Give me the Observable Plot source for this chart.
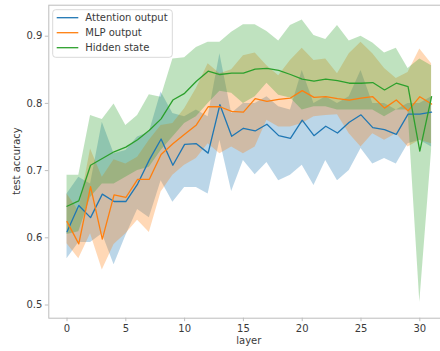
<!DOCTYPE html>
<html>
<head>
<meta charset="utf-8">
<script src="https://cdn.jsdelivr.net/npm/d3@7"></script>
<script src="https://cdn.jsdelivr.net/npm/@observablehq/plot@0.6"></script>
<style>
  html, body { margin: 0; padding: 0; background: #fff; }
  #chart { width: 440px; height: 351px; overflow: hidden; }
  svg { font-family: "DejaVu Sans", sans-serif; }
</style>
</head>
<body>
<div id="chart"></div>
<script>
const layers = [0,1,2,3,4,5,6,7,8,9,10,11,12,13,14,15,16,17,18,19,20,21,22,23,24,25,26,27,28,29,30,31];
const seriesNames = ["Attention output", "MLP output", "Hidden state"];
const seriesColors = ["#1f77b4", "#ff7f0e", "#2ca02c"];
const xTicks = [0, 5, 10, 15, 20, 25, 30];
const yTicks = [0.5, 0.6, 0.7, 0.8, 0.9];

const attnMean = [0.609,0.648,0.630,0.665,0.654,0.654,0.680,0.716,0.747,0.708,0.739,0.740,0.726,0.798,0.751,0.763,0.759,0.769,0.752,0.748,0.775,0.752,0.766,0.756,0.772,0.783,0.764,0.761,0.754,0.784,0.784,0.787];
const attnHi   = [0.665,0.690,0.680,0.772,0.725,0.730,0.750,0.757,0.817,0.785,0.780,0.790,0.780,0.874,0.785,0.800,0.800,0.810,0.795,0.790,0.849,0.800,0.810,0.800,0.810,0.849,0.800,0.800,0.790,0.800,0.800,0.810];
const attnLo   = [0.569,0.593,0.593,0.606,0.560,0.603,0.642,0.630,0.685,0.653,0.675,0.675,0.665,0.745,0.669,0.715,0.694,0.712,0.685,0.693,0.708,0.678,0.715,0.685,0.700,0.733,0.710,0.718,0.710,0.740,0.745,0.735];

const mlpMean = [0.624,0.591,0.676,0.598,0.664,0.660,0.687,0.687,0.724,0.740,0.754,0.768,0.795,0.795,0.788,0.787,0.807,0.803,0.806,0.808,0.819,0.809,0.810,0.807,0.805,0.808,0.810,0.793,0.805,0.789,0.810,0.799];
const mlpHi   = [0.665,0.640,0.732,0.690,0.716,0.710,0.720,0.745,0.767,0.770,0.792,0.822,0.859,0.844,0.850,0.871,0.875,0.856,0.841,0.864,0.882,0.864,0.866,0.844,0.874,0.891,0.874,0.852,0.837,0.846,0.881,0.859];
const mlpLo   = [0.591,0.569,0.606,0.552,0.590,0.606,0.626,0.608,0.668,0.693,0.708,0.718,0.740,0.725,0.735,0.725,0.735,0.775,0.765,0.765,0.770,0.780,0.782,0.783,0.755,0.735,0.755,0.745,0.755,0.735,0.745,0.740];

const hidMean = [0.647,0.655,0.708,0.718,0.728,0.735,0.746,0.760,0.777,0.805,0.815,0.833,0.848,0.843,0.845,0.845,0.851,0.852,0.849,0.843,0.836,0.833,0.836,0.834,0.830,0.830,0.831,0.820,0.830,0.825,0.729,0.810];
const hidHi   = [0.693,0.693,0.782,0.776,0.799,0.767,0.782,0.813,0.809,0.866,0.868,0.883,0.891,0.891,0.906,0.917,0.917,0.907,0.893,0.916,0.924,0.901,0.895,0.916,0.893,0.900,0.890,0.875,0.882,0.852,0.866,0.856];
const hidLo   = [0.605,0.609,0.660,0.680,0.680,0.690,0.700,0.705,0.730,0.750,0.770,0.780,0.800,0.818,0.815,0.800,0.810,0.830,0.812,0.808,0.790,0.795,0.795,0.790,0.790,0.790,0.790,0.780,0.790,0.790,0.504,0.730];

const means = [attnMean, mlpMean, hidMean];
const his = [attnHi, mlpHi, hidHi];
const los = [attnLo, mlpLo, hidLo];

const rows = [];
seriesNames.forEach((name, s) => {
  layers.forEach((l, i) => {
    rows.push({series: name, layer: l, mean: means[s][i], hi: his[s][i], lo: los[s][i]});
  });
});

const W = 440, H = 351;
const mL = 48.3, mR = -9.3, mT = 4.7, mB = 33.3;
const axisGray = "#bdbdbd";
const textGray = "#3a3a3a";

const marks = [];
seriesNames.forEach((name, s) => {
  marks.push(Plot.areaY(rows.filter(d => d.series === name), {
    x: "layer", y1: "lo", y2: "hi", fill: seriesColors[s], fillOpacity: 0.3, curve: "linear"
  }));
});
seriesNames.forEach((name, s) => {
  marks.push(Plot.lineY(rows.filter(d => d.series === name), {
    x: "layer", y: "mean", stroke: seriesColors[s], strokeWidth: 1.3, curve: "linear"
  }));
});
marks.push(Plot.frame({stroke: axisGray, strokeWidth: 1}));
marks.push(Plot.axisX({ticks: xTicks, tickSize: 3.5, tickPadding: 3, stroke: axisGray, fill: textGray, fontSize: 10, label: null, tickFormat: d3.format("d")}));
marks.push(Plot.axisY({ticks: yTicks, tickSize: 3.5, tickPadding: 3, stroke: axisGray, fill: textGray, fontSize: 10, label: null, tickFormat: d3.format(".1f")}));

const chart = Plot.plot({
  width: W, height: H,
  marginLeft: mL, marginRight: mR, marginTop: mT, marginBottom: mB,
  style: {fontFamily: "DejaVu Sans", fontSize: "10px", background: "#fff", overflow: "visible"},
  x: {domain: [-1.55, 32.55]},
  y: {domain: [0.48036, 0.94613]},
  marks
});

const svg = d3.select(chart);
// axis titles
svg.append("text").attr("x", 248.8).attr("y", 344).attr("text-anchor", "middle")
  .attr("font-size", 10).attr("fill", textGray).attr("font-family", "DejaVu Sans").text("layer");
svg.append("text").attr("transform", "translate(17,161) rotate(-90)").attr("text-anchor", "middle")
  .attr("dominant-baseline", "middle")
  .attr("font-size", 10).attr("fill", textGray).attr("font-family", "DejaVu Sans").text("test accuracy");

// legend
const lg = svg.append("g");
lg.append("rect").attr("x", 52.7).attr("y", 9.7).attr("width", 119.6).attr("height", 47.6)
  .attr("rx", 3).attr("fill", "#fff").attr("fill-opacity", 0.8).attr("stroke", "#d9d9d9").attr("stroke-width", 1);
seriesNames.forEach((name, s) => {
  const yy = 17.7 + s * 15;
  lg.append("line").attr("x1", 56.7).attr("x2", 78.3).attr("y1", yy).attr("y2", yy)
    .attr("stroke", seriesColors[s]).attr("stroke-width", 1.3);
  lg.append("text").attr("x", 85.3).attr("y", yy).attr("dy", "0.35em").attr("text-anchor", "start")
    .attr("font-size", 10).attr("fill", textGray).attr("font-family", "DejaVu Sans").text(name);
});

document.getElementById("chart").appendChild(chart);
</script>
</body>
</html>
